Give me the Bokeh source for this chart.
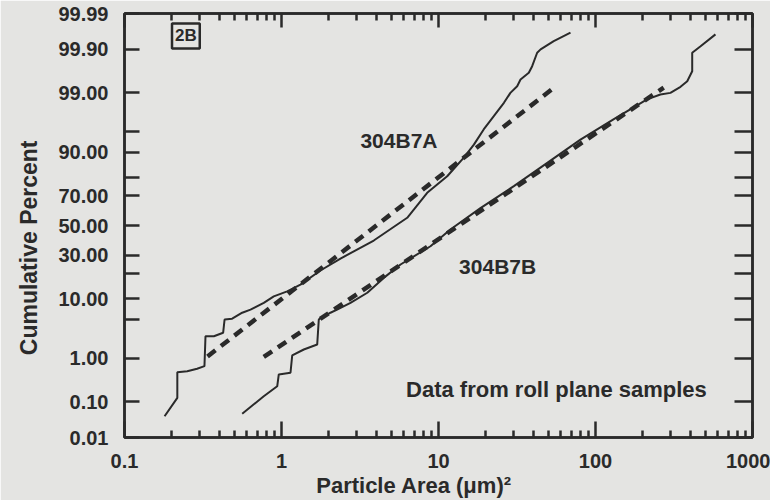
from statistics import NormalDist
from bokeh.plotting import figure
from bokeh.models import (Range1d, LinearAxis, LogAxis, FixedTicker,
                          CustomJSTickFormatter, Label)
from bokeh.embed import file_html
from bokeh.resources import INLINE

# ---------------- data ----------------
a_area = [0.180, 0.217, 0.217, 0.251, 0.290, 0.323, 0.328, 0.371, 0.425, 0.434,
          0.485, 0.562, 0.635, 0.771, 0.893, 1.087, 1.32, 1.77, 2.375, 3.87,
          6.32, 8.47, 11.36, 14.5, 16.8, 19.4, 22.5, 26.1, 28.7, 31.7,
          33.3, 37.6, 39.5, 42.5, 44.7, 54.2, 69.3]
a_pct = [0.041, 0.125, 0.50, 0.53, 0.60, 0.68, 2.6, 2.6, 3.0, 4.96,
         5.1, 6.3, 7.0, 8.75, 10.7, 12.4, 15.0, 21.5, 28.1, 39.6,
         55.4, 71.7, 80.6, 88.3, 92.2, 95.4, 97.24, 98.43, 99.0, 99.27,
         99.48, 99.63, 99.74, 99.878, 99.90, 99.939, 99.964]

b_area = [0.562, 0.771, 0.939, 0.961, 1.141, 1.17, 1.387, 1.688, 1.728, 2.05,
          2.26, 2.75, 3.52, 4.48, 5.73, 8.89, 11.9, 18.5, 30.2, 49.3,
          80.2, 130.9, 213, 259, 300, 348, 384, 413, 413, 467, 581]
b_pct = [0.048, 0.137, 0.24, 0.45, 0.49, 1.13, 1.48, 1.84, 4.96, 6.3,
         7.0, 8.75, 11.9, 17.9, 24.7, 35.8, 47.2, 62.0, 75.5, 86.4,
         93.4, 96.9, 98.65, 98.92, 99.0, 99.25, 99.43, 99.66, 99.878, 99.917, 99.960]

fit_a_area = [0.338, 55.6]
fit_a_pct = [1.08, 99.26]
fit_b_area = [0.771, 272]
fit_b_pct = [1.06, 99.22]

y_tick_pct = [0.01, 0.1, 1, 5, 10, 20, 30, 50, 70, 80, 90, 95, 99, 99.9, 99.99]
y_tick_labels = ["0.01", "0.10", "1.00", "", "10.00", "", "30.00", "50.00",
                 "70.00", "", "90.00", "", "99.00", "99.90", "99.99"]
x_ticks = [0.1, 1, 10, 100, 1000]
x_tick_labels = ["0.1", "1", "10", "100", "1000"]

# ---------------- helpers ----------------
nd = NormalDist()


def probit(pcts):
    return [nd.inv_cdf(v / 100.0) for v in pcts]


x_minor = [m * 10.0 ** k for k in range(-1, 3) for m in range(2, 10)]
y_ticks_z = probit(y_tick_pct)

BG = "#e4e4e2"
INK = "#2a2a2a"
FONT = "Liberation Sans"
NB = "\u00a0"

p = figure(width=770, height=500, x_axis_type="log",
           x_range=Range1d(0.1, 1000),
           y_range=Range1d(nd.inv_cdf(0.0001), nd.inv_cdf(0.9999)),
           output_backend="svg", toolbar_location=None,
           min_border_left=124, min_border_right=18,
           min_border_top=13, min_border_bottom=63,
           background_fill_color=BG, border_fill_color=BG)
p.grid.visible = False
p.outline_line_color = INK
p.outline_line_width = 2.5

xfmt = CustomJSTickFormatter(args=dict(tv=x_ticks, lbl=x_tick_labels), code="""
let best = 0, d = 1e99;
for (let i = 0; i < tv.length; i++) {
  const e = Math.abs(Math.log10(tv[i]) - Math.log10(tick));
  if (e < d) { d = e; best = i; }
}
return lbl[best];
""")
yfmt = CustomJSTickFormatter(args=dict(tv=y_ticks_z, lbl=y_tick_labels), code="""
let best = 0, d = 1e99;
for (let i = 0; i < tv.length; i++) {
  const e = Math.abs(tv[i] - tick);
  if (e < d) { d = e; best = i; }
}
return lbl[best];
""")


def style_axis(ax):
    ax.axis_line_color = INK
    ax.axis_line_width = 2.5
    ax.major_tick_line_color = INK
    ax.major_tick_line_width = 2.5
    ax.minor_tick_line_color = INK
    ax.minor_tick_line_width = 2.5
    ax.major_tick_out = 0
    ax.minor_tick_out = 0
    ax.major_label_text_font = FONT
    ax.major_label_text_font_style = "bold"
    ax.major_label_text_font_size = "20px"
    ax.major_label_text_color = INK
    ax.axis_label_text_font = FONT
    ax.axis_label_text_font_style = "bold"
    ax.axis_label_text_font_size = "22px"
    ax.axis_label_text_color = INK


# bottom axis
xa = p.xaxis[0]
style_axis(xa)
xa.ticker = FixedTicker(ticks=x_ticks, minor_ticks=x_minor)
xa.formatter = xfmt
xa.major_tick_in = 16
xa.minor_tick_in = 7
xa.major_label_standoff = 16
xa.axis_label = "Particle Area (μm)²" + NB * 8
xa.axis_label_standoff = 2

# left axis
ya = p.yaxis[0]
style_axis(ya)
ya.ticker = FixedTicker(ticks=y_ticks_z)
ya.formatter = yfmt
ya.major_tick_in = 15
ya.minor_tick_in = 0
ya.major_label_standoff = 16
ya.axis_label = "Cumulative Percent" + NB * 7
ya.axis_label_text_font_size = "23px"
ya.axis_label_standoff = 13

# top axis (ticks only)
ta = LogAxis(ticker=FixedTicker(ticks=x_ticks, minor_ticks=x_minor))
style_axis(ta)
ta.major_tick_in = 14
ta.minor_tick_in = 7
ta.major_label_text_font_size = "1px"
ta.major_label_text_alpha = 0
ta.major_label_standoff = 0
p.add_layout(ta, "above")

# right axis (ticks only)
ra = LinearAxis(ticker=FixedTicker(ticks=y_ticks_z))
style_axis(ra)
ra.major_tick_in = 18
ra.minor_tick_in = 0
ra.major_label_text_font_size = "1px"
ra.major_label_text_alpha = 0
ra.major_label_standoff = 0
p.add_layout(ra, "right")

# data curves
p.line(a_area, probit(a_pct), line_color=INK, line_width=2)
p.line(b_area, probit(b_pct), line_color=INK, line_width=2)
p.line(fit_a_area, probit(fit_a_pct), line_color=INK, line_width=4.5, line_dash="10 7")
p.line(fit_b_area, probit(fit_b_pct), line_color=INK, line_width=4.5, line_dash="10 7")

# annotations
for x, y, t, s in [(5.6, 93.2, "304B7A", "21px"),
                   (23.8, 23.6, "304B7B", "21px"),
                   (56.4, 0.20, "Data from roll plane samples", "22px")]:
    p.add_layout(Label(x=x, y=probit([y])[0], text=t, text_font=FONT,
                       text_font_style="bold", text_font_size=s,
                       text_color=INK, text_align="center",
                       text_baseline="middle"))

p.add_layout(Label(x=0.246, y=probit([99.956])[0], text="2B", text_font=FONT,
                   text_font_style="bold", text_font_size="17px",
                   text_color=INK, text_align="center", text_baseline="middle",
                   border_line_color=INK, border_line_width=2.5,
                   background_fill_color=BG, padding=3))

open("out.html", "w").write(file_html(p, INLINE))
